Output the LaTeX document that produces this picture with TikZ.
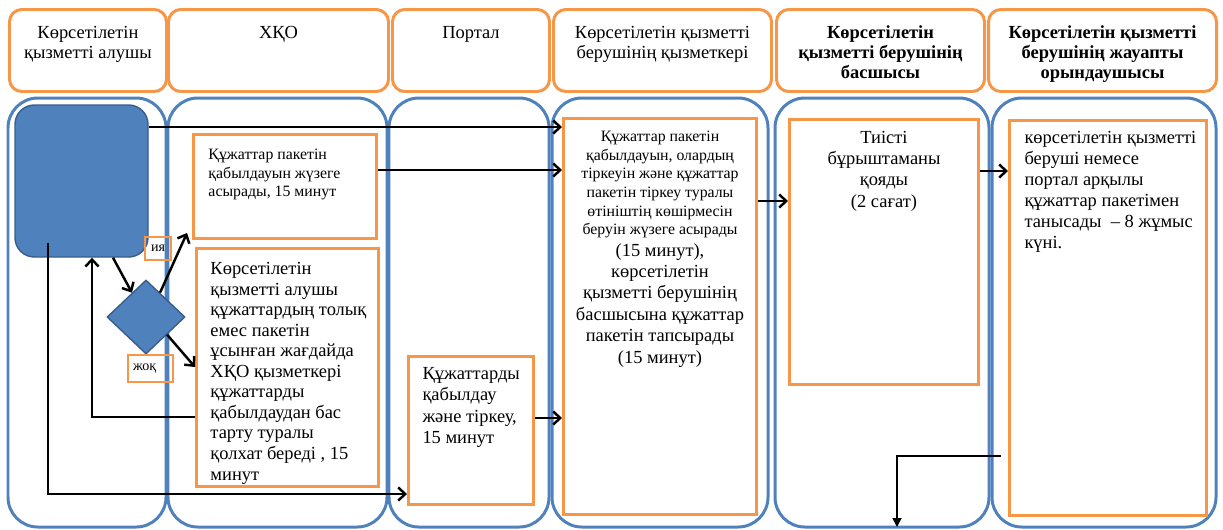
\documentclass[tikz,border=0pt]{standalone}
\usepackage{fontspec}
\setmainfont{Liberation Serif}
\usetikzlibrary{arrows.meta,shapes.geometric,calc}

\definecolor{laneblue}{RGB}{79,129,189}
\definecolor{darkblue}{RGB}{56,93,138}
\definecolor{boxorange}{RGB}{247,150,70}

\newlength{\pxu}
\setlength{\pxu}{0.02cm}
% width, height, gap above the first line, text
\newcommand{\topbox}[4]{\parbox[c][#2\pxu][t]{#1\pxu}{\vspace*{#3\pxu}#4}}
\newcommand{\headfont}{\fontsize{10.5}{11.4}\selectfont}
\newcommand{\smallfont}{\fontsize{9}{10.6}\selectfont}
\newcommand{\headtext}{\centering\headfont\strut}
\newcommand{\padleft}[1]{\raggedright\leftskip=#1\pxu}

\tikzset{
	lanebox/.style={draw=laneblue, line width=1.7pt, rounded corners=17pt},
	headbox/.style={draw=boxorange, line width=1.7pt, rounded corners=7pt, anchor=north west, inner sep=0pt},
	stepbox/.style={draw=boxorange, line width=1.7pt, anchor=north west, inner sep=0pt},
	tagbox/.style={draw=boxorange, line width=1.3pt, inner sep=0pt, font=\fontsize{8}{9}\selectfont},
	startbox/.style={draw=darkblue, fill=laneblue, line width=0.8pt, rounded corners=11pt},
	decision/.style={diamond, draw=darkblue, fill=laneblue, line width=0.8pt, inner sep=0pt},
	arr/.style={->, line width=1.4pt}
}

\begin{document}
\begin{tikzpicture}[x=0.02cm, y=-0.02cm, >={Straight Barb[length=4pt,width=7.5pt]}]
	\useasboundingbox (0,0) rectangle (1223,529);
	% lanes
	\draw[lanebox] (8,98) rectangle (166,527);
	\draw[lanebox] (168,98) rectangle (387,527);
	\draw[lanebox] (389,98) rectangle (549,527);
	\draw[lanebox] (552,98) rectangle (768,527);
	\draw[lanebox] (775,98) rectangle (989,527);
	\draw[lanebox] (992,98) rectangle (1216,527);
	%
	\node[headbox] (h1) at (8,8) {\topbox{157}{82}{15}{\headtext Көрсетілетін\\ қызметті алушы}};
	\node[headbox] (h2) at (167,8) {\topbox{220}{82}{15}{\headtext ХҚО}};
	\node[headbox] (h3) at (391,8) {\topbox{157}{82}{15}{\headtext Портал}};
	\node[headbox] (h4) at (552,8) {\topbox{218}{82}{15}{\headtext Көрсетілетін қызметті\\ берушінің қызметкері}};
	\node[headbox] (h5) at (775,8) {\topbox{208}{82}{15}{\headtext\bfseries Көрсетілетін\\ қызметті берушінің\\ басшысы}};
	\node[headbox] (h6) at (987,8) {\topbox{228}{82}{15}{\headtext\bfseries Көрсетілетін қызметті\\ берушінің жауапты\\ орындаушысы}};
	%
	\node[startbox, minimum width=133\pxu, minimum height=152\pxu] (start) at (81.5,181) {};
	\node[decision, minimum width=78\pxu, minimum height=74\pxu] (dia) at (146,317) {};
	\node[tagbox, minimum width=26\pxu, minimum height=23\pxu] (yes) at (158,248.5) {ия};
	\node[tagbox, minimum width=45\pxu, minimum height=27\pxu] (no) at (150.5,368.5) {\makebox[35\pxu][l]{жоқ}};
	%
	\node[stepbox] (xqoA) at (192,133) {\topbox{183}{104}{12}{\padleft{15}\smallfont\strut Құжаттар пакетін\\ қабылдауын жүзеге\\ асырады, 15 минут}};
	\node[stepbox] (xqoB) at (195,247) {\topbox{182}{238}{11.6}{\padleft{14}\fontsize{10.5}{11.7}\selectfont\strut Көрсетілетін\\ қызметті алушы\\ құжаттардың толық\\ емес пакетін\\ ұсынған жағдайда\\ ХҚО қызметкері\\ құжаттарды\\ қабылдаудан бас\\ тарту туралы\\ қолхат береді , 15\\ минут}};
	\node[stepbox] (portC) at (407,355) {\topbox{125}{148}{8}{\padleft{14}\fontsize{10.5}{12.2}\selectfont\strut Құжаттарды\\ қабылдау\\ және тіркеу,\\ 15 минут}};
	\node[stepbox] (srvD) at (562,117) {\topbox{193}{396}{10}{\centering\smallfont\strut Құжаттар пакетін\\ қабылдауын, олардың\\ тіркеуін және құжаттар\\ пакетін тіркеу туралы\\ өтініштің көшірмесін\\ беруін жүзеге асырады\par
		\fontsize{10.5}{12.2}\selectfont (15 минут),\\ көрсетілетін\\ қызметті берушінің\\ басшысына құжаттар\\ пакетін тапсырады\\ (15 минут)}};
	\node[stepbox] (bossE) at (788,118) {\topbox{189}{265}{9}{\centering\fontsize{10.5}{12.1}\selectfont\strut Тиісті\\ бұрыштаманы\\ қояды\\ (2 сағат)}};
	\node[stepbox] (execF) at (1008,119) {\topbox{197}{395}{8}{\padleft{15}\fontsize{10.5}{12}\selectfont\strut көрсетілетін қызметті\\ беруші немесе\\ портал арқылы\\ құжаттар пакетімен\\ танысады\ \ – 8 жұмыс\\ күні.}};
	%
	\coordinate (inS) at (48,243);
	\coordinate (outS) at (1001,456);
	\coordinate (outE) at (897,527);
	\draw[arr] (start.east |- 0,127) -- (srvD.west |- 0,127);
	\draw[arr] (xqoA.east |- 0,170) -- (srvD.west |- 0,170);
	\draw[arr] (start.south -| 113,0) -- (dia.120);
	\draw[arr] (dia.60) -- ($(xqoA.south west)+(-5,-7)$);
	\draw[arr] (dia.-40) -- (xqoB.west |- 0,367);
	\draw[arr] (xqoB.west |- 0,417) -| (start.south -| 92,0);
	\draw[arr] (inS) |- (portC.west |- 0,494);
	\draw[arr] (portC.east |- 0,418) -- (srvD.west |- 0,418);
	\draw[arr] (srvD.east |- 0,201) -- (bossE.west |- 0,201);
	\draw[arr] (bossE.east |- 0,171) -- (execF.west |- 0,171);
	\draw[arr, line width=1pt, >={Triangle[length=5pt,width=5pt]}] (outS) -| (outE);
\end{tikzpicture}
\end{document}
